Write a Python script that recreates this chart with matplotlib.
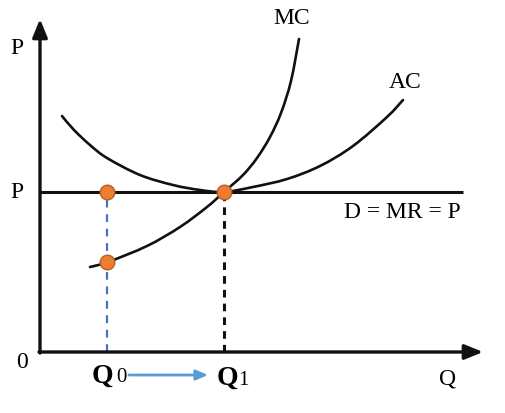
import numpy as np
import matplotlib
matplotlib.use("Agg")
import matplotlib.pyplot as plt
from matplotlib.path import Path
from matplotlib.patches import PathPatch

plt.rcParams['font.family'] = ['Liberation Serif', 'DejaVu Serif']

# curve points (Q, P units)
mc_q = [50, 68, 107, 140, 167, 184, 203, 217, 230, 241, 251, 259]
mc_p = [85, 90, 106, 125, 145, 160, 177, 194, 215, 239, 271, 313]
ac_q = [22, 34, 50, 67, 100, 133, 160, 184, 213, 247, 280, 313, 347, 363]
ac_p = [236, 222, 207, 194, 177, 167, 162, 160, 165, 173, 186, 206, 235, 252]

price = 160
q0, q1 = 67, 184
mc_q0 = 90
line_end = 423


def smooth_path(xs, ys):
    # Catmull-Rom through the read points, drawn as cubic bezier segments
    pts = np.column_stack([xs, ys]).astype(float)
    verts = [pts[0]]
    codes = [Path.MOVETO]
    n = len(pts)
    for i in range(n - 1):
        p0 = pts[i - 1] if i > 0 else pts[i]
        p1 = pts[i]
        p2 = pts[i + 1]
        p3 = pts[i + 2] if i + 2 < n else pts[i + 1]
        c1 = p1 + (p2 - p0) / 6
        c2 = p2 - (p3 - p1) / 6
        verts += [c1, c2, p2]
        codes += [Path.CURVE4] * 3
    return Path(verts, codes)


fig = plt.figure(figsize=(5.06, 4.14), dpi=100)
ax = fig.add_axes([0, 0, 1, 1])
ax.set_xlim(-40, 466)
ax.set_ylim(-61, 353)
ax.axis('off')

# axes with arrows
ax.annotate('', xy=(443, 0), xytext=(-1, 0),
            arrowprops=dict(arrowstyle='-|>,head_length=1.1,head_width=0.45', lw=2.4, color='#111111',
                            shrinkA=0, shrinkB=0))
ax.annotate('', xy=(0, 333), xytext=(0, -1),
            arrowprops=dict(arrowstyle='-|>,head_length=1.1,head_width=0.45', lw=2.4, color='#111111',
                            shrinkA=0, shrinkB=0))

# price line
ax.plot([0, line_end], [price, price], color='#111111', lw=2.2, solid_capstyle='butt')

# dashed drops
ax.plot([q0, q0], [0, price], color='#4472C4', lw=1.6, ls=(0, (3.5, 3)))
ax.plot([q1, q1], [0, price], color='#111111', lw=2.2, ls=(0, (2.5, 2)))

# cost curves
for xs, ys in [(ac_q, ac_p), (mc_q, mc_p)]:
    ax.add_patch(PathPatch(smooth_path(xs, ys), fill=False, edgecolor='#111111',
                           lw=1.9, capstyle='round'))

# points
ax.plot([q0, q1, q0], [price, price, mc_q0], 'o', ms=10.5, color='#ED7D31',
        mec='#B5601F', mew=1.0, zorder=5)

# labels
fs = 17
ax.text(-23, 305, 'P', fontsize=fs, ha='center', va='center')
ax.text(-23, price, 'P', fontsize=fs, ha='center', va='center')
ax.text(-18, -10, '0', fontsize=fs, ha='center', va='center')
ax.text(408, -26, 'Q', fontsize=fs, ha='center', va='center')
ax.text(252, 334, 'MC', fontsize=fs, ha='center', va='center')
ax.text(365, 271, 'AC', fontsize=fs, ha='center', va='center')
ax.text(362, 141, 'D = MR = P', fontsize=fs, ha='center', va='center')

ax.text(62, -23, 'Q', fontsize=20, fontweight='bold', ha='center', va='center')
ax.text(81, -25, '0', fontsize=15, ha='center', va='center')
ax.text(187, -25, 'Q', fontsize=20, fontweight='bold', ha='center', va='center')
ax.text(203, -28, '1', fontsize=15, ha='center', va='center')
ax.annotate('', xy=(168, -23), xytext=(89, -23),
            arrowprops=dict(arrowstyle='-|>,head_length=0.7,head_width=0.3', lw=2.0,
                            color='#5B9BD5', shrinkA=0, shrinkB=0))

fig.savefig('out.png', dpi=100)
